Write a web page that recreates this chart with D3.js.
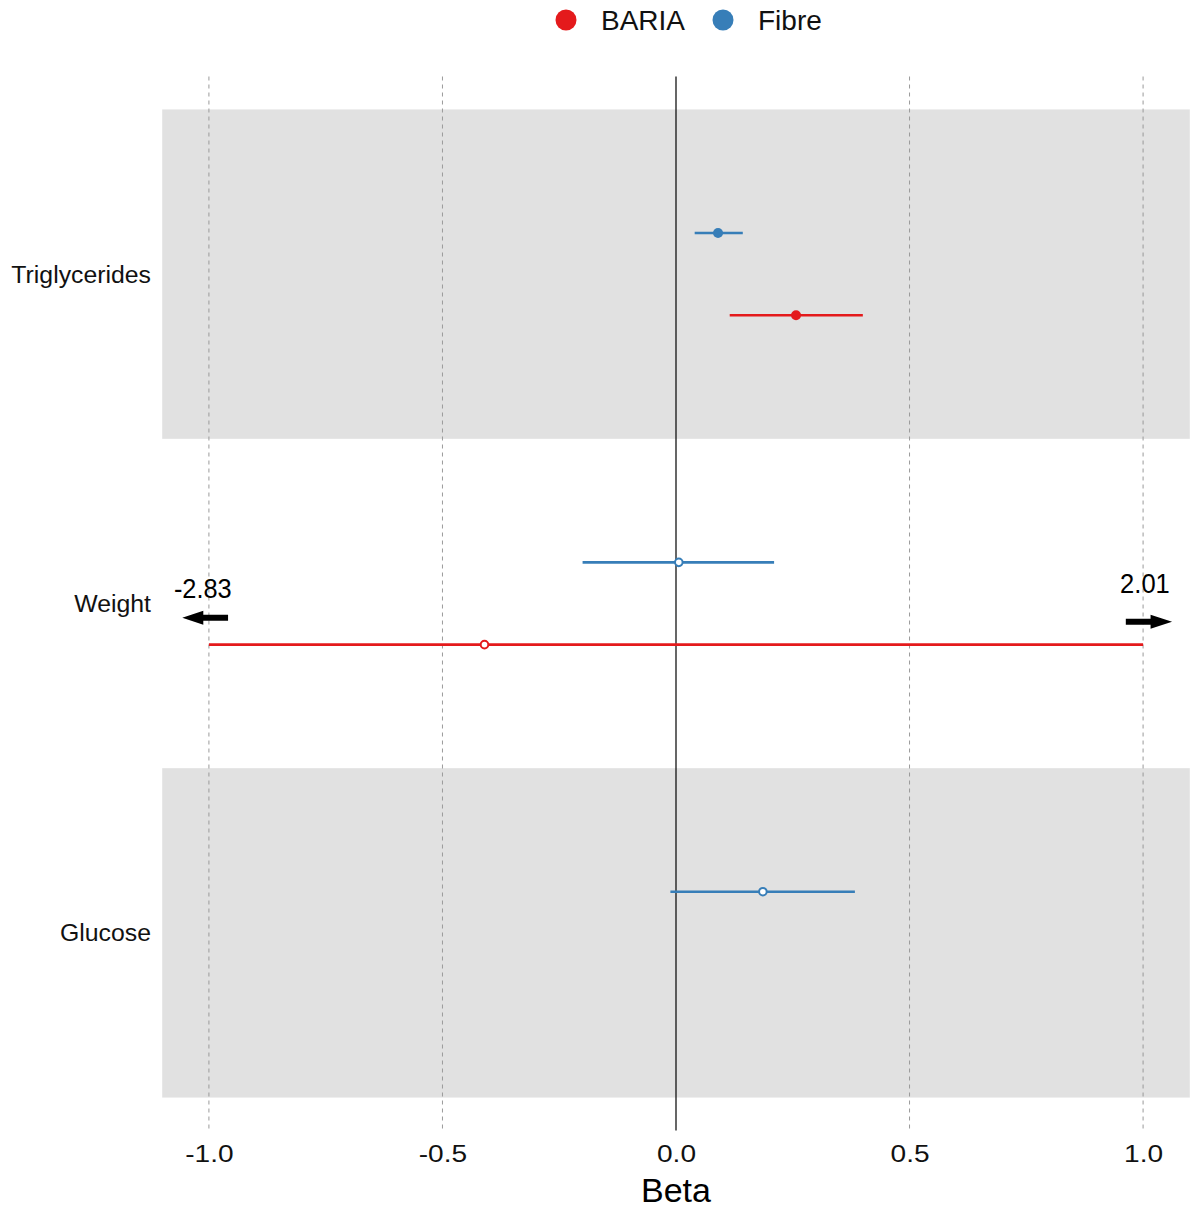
<!DOCTYPE html>
<html><head><meta charset="utf-8">
<script src="https://cdn.jsdelivr.net/npm/d3@7"></script>
<style>body{margin:0;background:#fff;} text{font-family:Arial,"Liberation Sans",sans-serif;}</style>
</head><body>
<svg id="c" width="1193" height="1211"></svg>
<script>
const categories = ["Triglycerides","Weight","Glucose"];
const groups = ["BARIA","Fibre"];
const groupColors = ["#E41A1C","#377EB8"];
const estCategory = ["Triglycerides","Triglycerides","Weight","Weight","Glucose"];
const estGroup    = ["Fibre","BARIA","Fibre","BARIA","Fibre"];
const estBeta     = [0.090, 0.257, 0.006, -0.410, 0.186];
const estLow      = [0.040, 0.115, -0.200, -2.83, -0.012];
const estHigh     = [0.143, 0.400, 0.210, 2.01, 0.383];
const estSig      = [true, true, false, false, false];
const xTicks = [-1.0,-0.5,0.0,0.5,1.0];
const clipMin = -1.0, clipMax = 1.0;

const svg = d3.select("#c");
const x = d3.scaleLinear().domain([-1.1,1.1]).range([162.2,1189.8]);
const yPos = d3.scaleLinear().domain([0.4,3.6]).range([76.5,1130.5]);
const yIdx = c => categories.indexOf(c)+1;
const dodge = g => g==="Fibre" ? -0.125 : 0.125;
const col = d3.scaleOrdinal().domain(groups).range(groupColors);
const sx = (sel, k) => sel.each(function(){
  const t = d3.select(this), xx = +t.attr("x")||0;
  t.attr("transform", (t.attr("transform")||"") + ` translate(${xx},0) scale(${k},1) translate(${-xx},0)`);
});

// bands
categories.forEach((c,i)=>{
  if(i%2===0){
    svg.append("rect").attr("x",x(-1.1)).attr("width",x(1.1)-x(-1.1))
      .attr("y",yPos(i+1-0.5)).attr("height",yPos(i+1.5)-yPos(i+0.5)).attr("fill","#e1e1e1");
  }
});
// grid
xTicks.forEach(t=>{
  if(t!==0) svg.append("line").attr("x1",x(t)).attr("x2",x(t)).attr("y1",yPos(0.4)).attr("y2",yPos(3.6))
    .attr("stroke","#9a9a9a").attr("stroke-width",1).attr("stroke-dasharray","4,4");
});
svg.append("line").attr("x1",x(0)).attr("x2",x(0)).attr("y1",yPos(0.4)).attr("y2",yPos(3.6))
  .attr("stroke","#000").attr("stroke-width",1.2);

// x axis labels
const xAxis = d3.axisBottom(x).tickValues(xTicks).tickFormat(d3.format(".1f")).tickSize(0).tickPadding(0);
const gx = svg.append("g").attr("transform",`translate(0,1145)`).call(xAxis);
gx.select(".domain").remove();
gx.selectAll("text").attr("font-size",24).attr("fill","#111").attr("dy","0.71em").attr("y",0).attr("x",0)
  .text(d=>d3.format(".1f")(d).replace("−","-"));
sx(gx.selectAll("text"), 1.17);
svg.append("text").attr("x",x(0)).attr("y",1202).attr("text-anchor","middle").attr("font-size",34).attr("fill","#000").text("Beta");

// y labels
const yAxis = d3.axisLeft(d3.scalePoint().domain(categories).range([yPos(1),yPos(3)])).tickSize(0).tickPadding(0);
const gy = svg.append("g").attr("transform","translate(151,0)").call(yAxis);
gy.select(".domain").remove();
gy.selectAll("text").attr("font-size",24.8).attr("fill","#111");

// estimates
estBeta.forEach((b,i)=>{
  const yy = yPos(yIdx(estCategory[i]) + dodge(estGroup[i]));
  const c = col(estGroup[i]);
  const lo = Math.max(estLow[i],clipMin), hi = Math.min(estHigh[i],clipMax);
  svg.append("line").attr("x1",x(lo)).attr("x2",x(hi)).attr("y1",yy).attr("y2",yy)
    .attr("stroke",c).attr("stroke-width",2.6);
  svg.append("circle").attr("cx",x(b)).attr("cy",yy).attr("r",estSig[i]?5:3.8)
    .attr("fill",estSig[i]?c:"#fff").attr("stroke",c).attr("stroke-width",estSig[i]?0:2);
  if(estLow[i]<clipMin){
    const ay = yy-27;
    svg.append("path").attr("d",`M${x(-0.959)},${ay-3}L${x(-1.012)},${ay-3}L${x(-1.012)},${ay-7}L${x(-1.057)},${ay}L${x(-1.012)},${ay+7}L${x(-1.012)},${ay+3}L${x(-0.959)},${ay+3}Z`).attr("fill","#000");
    const t = svg.append("text").attr("x",x(-1.013)).attr("y",yy-47).attr("text-anchor","middle").attr("font-size",27)
      .text(d3.format(".2f")(estLow[i]).replace("−","-"));
    sx(t, 0.94);
  }
  if(estHigh[i]>clipMax){
    const ay = yy-23;
    svg.append("path").attr("d",`M${x(0.963)},${ay-3}L${x(1.016)},${ay-3}L${x(1.016)},${ay-7}L${x(1.062)},${ay}L${x(1.016)},${ay+7}L${x(1.016)},${ay+3}L${x(0.963)},${ay+3}Z`).attr("fill","#000");
    const t = svg.append("text").attr("x",x(1.004)).attr("y",yy-52).attr("text-anchor","middle").attr("font-size",27.5)
      .text(d3.format(".2f")(estHigh[i]));
    sx(t, 0.93);
  }
});

// legend
const legX = [566,723];
groups.forEach((g,i)=>{
  svg.append("circle").attr("cx",legX[i]).attr("cy",20).attr("r",10.5).attr("fill",col(g));
  svg.append("text").attr("x",legX[i]+35).attr("y",30).attr("font-size",28).attr("fill","#111").text(g);
});
</script>
</body></html>
